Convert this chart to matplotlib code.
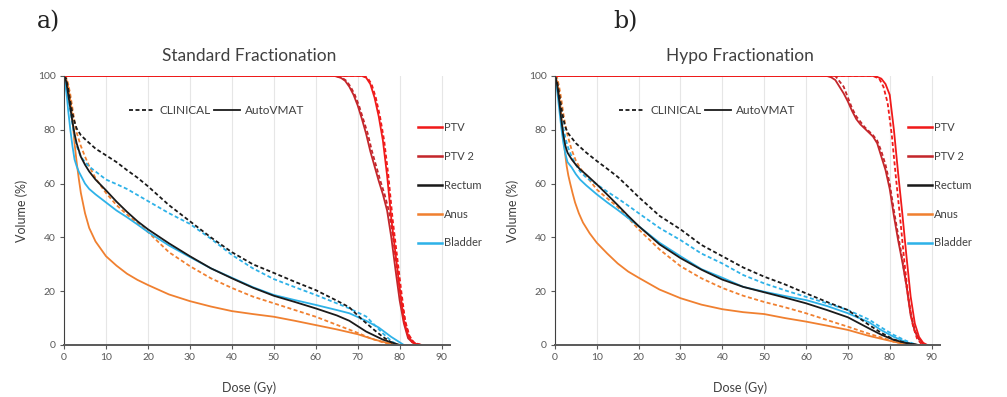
import matplotlib
matplotlib.use("Agg")
import matplotlib.pyplot as plt
from matplotlib.lines import Line2D

plt.rcParams['font.family'] = ['Lato', 'DejaVu Sans']

## DATA - Standard fractionation
std_ptv_d = [0, 71, 72, 73, 74, 75, 76, 77, 78, 79, 80, 81, 82, 83, 84, 85]
std_ptv_v = [100, 100, 99.4, 97, 92, 85, 76, 63, 47, 34, 21, 9, 3.5, 1, 0.3, 0]
std_ptv_clin_d = [0, 71.3, 72.3, 73.3, 74.3, 75.3, 76.3, 77.3, 78.3, 79.3, 80.3, 81.3, 82.3, 83.3, 84.3, 85.3]
std_ptv_clin_v = [100, 100, 99.4, 97, 92, 85, 76, 63, 47, 34, 21, 9, 3.5, 1, 0.3, 0]
std_ptv2_d = [0, 64.5, 66, 67, 68, 69, 70, 71, 72, 73, 74, 75, 76, 77, 78, 79, 80, 81, 82, 83, 84, 85]
std_ptv2_v = [100, 100, 99.3, 98.2, 96, 93, 89, 84, 78.5, 72, 66.5, 61, 56, 50, 40, 28, 16.5, 8, 2.5, 1, 0.3, 0]
std_ptv2_clin_d = [0, 64.8, 66.3, 67.3, 68.3, 69.3, 70.3, 71.3, 72.4, 73.4, 74.4, 75.4, 76.4, 77.4, 78.4, 79.4, 80.4, 81.4, 82.4, 83.4, 84.4, 85.4]
std_ptv2_clin_v = [100, 100, 99.3, 98.2, 96, 93, 89, 84, 78.5, 72, 66.5, 61, 56, 50, 40, 28, 16.5, 8, 2.5, 1, 0.3, 0]

std_rect_clin_d = [0, 0.5, 1, 1.5, 2, 2.5, 3, 4, 5, 7.5, 10, 12.5, 15, 17.5, 20, 25, 30, 35, 40, 45, 50, 55, 60, 65, 68, 71, 74, 76, 78, 79.5]
std_rect_clin_v = [100, 99, 95, 90.5, 86, 83, 80.5, 78, 76.5, 73, 70.5, 68, 65, 62.2, 59, 52, 46, 40, 34.5, 30, 26.8, 23.5, 20.4, 16.5, 14, 9.5, 5.5, 3, 1, 0]
std_rect_d = [0, 0.5, 1, 1.5, 2, 2.5, 3, 4, 5, 6, 7.5, 10, 12.5, 15, 17.5, 20, 25, 30, 35, 40, 45, 50, 55, 60, 65, 68, 70, 72, 74, 76, 78, 80]
std_rect_v = [100, 98, 93, 88, 83, 78.5, 75, 70, 67, 64.5, 61.5, 57.5, 53.3, 49.5, 46, 43, 37.8, 33, 28.5, 24.8, 21.3, 18.3, 16, 13.6, 11, 9, 7, 5, 3.5, 2, 1, 0]

std_anus_clin_d = [0, 0.5, 1, 1.5, 2, 2.5, 3, 4, 5, 6, 7.5, 10, 12.5, 15, 17.5, 20, 25, 30, 35, 40, 45, 50, 55, 60, 65, 70, 73, 76, 78, 80]
std_anus_clin_v = [100, 99.5, 97, 93, 88, 83, 79, 74, 70, 66.5, 62, 56.5, 52, 48.5, 45.3, 42, 34.5, 29.3, 24.8, 21.2, 18, 15.5, 13, 10.5, 7.5, 4.5, 2.5, 1, 0.3, 0]
std_anus_d = [0, 0.5, 1, 1.5, 2, 2.5, 3, 3.5, 4, 5, 6, 7.5, 10, 12.5, 15, 17.5, 20, 25, 30, 35, 40, 45, 50, 55, 60, 65, 70, 74, 77, 80]
std_anus_v = [100, 99, 96, 91, 84, 75, 68, 62, 56.6, 49, 43.5, 38.5, 33, 29.5, 26.5, 24.2, 22.3, 18.8, 16.3, 14.3, 12.6, 11.5, 10.5, 9, 7.4, 5.8, 4, 2, 0.8, 0]

std_blad_clin_d = [0, 0.5, 1, 1.5, 2, 2.5, 3, 4, 5, 6, 7.5, 10, 12.5, 15, 20, 25, 30, 35, 40, 45, 50, 55, 60, 65, 68, 72, 76, 78, 79.5]
std_blad_clin_v = [100, 98, 93, 87, 82, 77.5, 74, 70, 68, 66.3, 64.5, 61.5, 59.8, 58, 53.5, 49, 45, 39.5, 33.5, 28.5, 24.5, 21.5, 18.6, 15.5, 13.6, 10.6, 4.3, 1.5, 0]
std_blad_d = [0, 0.3, 0.7, 1, 1.5, 2, 2.5, 3, 3.5, 4, 5, 6, 7.5, 10, 12.5, 15, 17.5, 20, 25, 30, 35, 40, 45, 50, 55, 60, 65, 68, 72, 75, 78, 80, 81]
std_blad_v = [100, 97, 92, 87, 80, 74, 69, 66.5, 64.5, 63, 60, 58, 56, 53, 50, 47.5, 44.8, 42, 37, 32.7, 28.5, 25, 21.5, 18.6, 16.7, 14.9, 13, 11.8, 9, 6.5, 3, 1, 0]

## DATA - Hypo fractionation
hyp_ptv_d = [0, 76.5, 78, 79, 80, 81, 82, 83, 84, 85, 86, 87, 88, 89]
hyp_ptv_v = [100, 100, 99, 97, 93, 80, 64, 49, 33, 18, 8, 3, 0.8, 0]
hyp_ptv_clin_d = [0, 76, 77.5, 78.5, 79.5, 80.5, 81.5, 82.5, 83.5, 84.5, 85.5, 86.5, 87.5, 88]
hyp_ptv_clin_v = [100, 100, 99, 96, 90, 78, 62, 47, 31, 17, 7.5, 2.5, 0.5, 0]
hyp_ptv2_d = [0, 65, 66, 67, 68, 69, 70, 71, 72, 73, 74, 75, 76, 77, 78, 79, 80, 81, 82, 83, 84, 85, 86, 87, 88, 88.5]
hyp_ptv2_v = [100, 100, 99.5, 98.5, 96, 93.5, 90.5, 87, 84, 82, 80.5, 79, 77.5, 75, 70, 65, 58, 48, 39, 31, 22, 11, 5, 2.3, 0.5, 0]
hyp_ptv2_clin_d = [0, 67, 68, 69, 70, 71, 72, 73, 74, 75, 76, 77, 78, 79, 80, 81, 82, 83, 84, 85, 86, 87, 88, 88.5]
hyp_ptv2_clin_v = [100, 100, 98, 96, 92, 88, 85, 83, 81, 79.5, 78, 76, 72, 67, 60, 50, 41, 32, 22, 12, 5.5, 2, 0.4, 0]

hyp_rect_clin_d = [0, 0.5, 1, 1.5, 2, 2.5, 3, 4, 5, 7.5, 10, 12.5, 15, 17.5, 20, 25, 30, 35, 40, 45, 50, 55, 60, 65, 70, 75, 78, 81, 84, 87]
hyp_rect_clin_v = [100, 98, 93.5, 88.5, 84, 81, 79, 77, 75, 71.5, 68.4, 65.5, 62.5, 58.8, 55, 48, 43, 37.2, 33, 28.8, 25.4, 22.5, 19.2, 16, 13, 7.5, 4.5, 2, 0.7, 0]
hyp_rect_d = [0, 0.5, 1, 1.5, 2, 2.5, 3, 4, 5, 6, 7.5, 10, 12.5, 15, 17.5, 20, 25, 30, 35, 40, 45, 50, 55, 60, 65, 70, 75, 78, 81, 84, 87]
hyp_rect_v = [100, 97, 91, 84, 78, 74, 71.5, 69, 67, 65.3, 63.3, 59.7, 55.9, 52, 48, 44.2, 37.4, 32.3, 28, 24.3, 21.6, 19.6, 17.6, 15.5, 13, 10.3, 6.2, 3.8, 1.9, 0.7, 0]

hyp_anus_clin_d = [0, 0.5, 1, 1.5, 2, 2.5, 3, 4, 5, 6, 7.5, 10, 12.5, 15, 17.5, 20, 25, 30, 35, 40, 45, 50, 55, 60, 65, 70, 75, 78, 81, 85]
hyp_anus_clin_v = [100, 99.5, 96, 91.5, 86, 81.5, 78, 72.5, 68.5, 65.8, 62.8, 57.8, 54.5, 51.3, 47.2, 43, 35.5, 29.3, 24.8, 21.2, 18.3, 16, 14, 11.8, 9.3, 6.8, 4.2, 2.8, 1.2, 0]
hyp_anus_d = [0, 0.5, 1, 1.5, 2, 2.4, 2.8, 3.2, 3.6, 4.2, 4.8, 5.7, 6.7, 8.3, 10, 12.5, 15, 17.5, 20, 25, 30, 35, 40, 45, 50, 55, 60, 65, 70, 75, 78, 81, 85]
hyp_anus_v = [100, 98, 93, 86, 77.7, 71.5, 66.5, 63, 60.3, 56.5, 53, 49, 45.5, 41.5, 38, 34, 30.3, 27.3, 25, 20.6, 17.4, 15, 13.3, 12.2, 11.5, 10, 8.7, 7.2, 5.6, 3.4, 2.3, 1.2, 0]

hyp_blad_clin_d = [0, 0.5, 1, 1.5, 2, 2.5, 3, 4, 5, 6, 7.5, 10, 12.5, 15, 17.5, 20, 25, 30, 35, 40, 45, 50, 55, 60, 65, 70, 75, 78, 81, 84, 86.5]
hyp_blad_clin_v = [100, 96, 90.5, 85, 80.5, 77, 74, 70, 67, 64.5, 62.2, 59.7, 57, 54.5, 51.8, 49, 43.5, 39, 34, 30.3, 26, 22.9, 20.3, 17.9, 15.5, 13, 9.5, 6.5, 3.7, 1.5, 0]
hyp_blad_d = [0, 0.5, 1, 1.5, 2, 2.5, 3, 4, 5, 6, 7.5, 10, 12.5, 15, 17.5, 20, 25, 30, 35, 40, 45, 50, 55, 60, 65, 70, 75, 78, 81, 84, 86]
hyp_blad_v = [100, 95, 88, 81, 75.2, 71, 68, 66, 63.5, 61.5, 59.3, 56, 53, 50.2, 47.2, 44.2, 38, 33, 28.2, 25, 21.6, 19.8, 18.2, 16.7, 14.5, 11.8, 8.5, 5.5, 3, 1, 0]

titles = ["Standard Fractionation", "Hypo Fractionation"]
panel_tags = ["a)", "b)"]
organs = ["PTV", "PTV 2", "Rectum", "Anus", "Bladder"]
xticks = [0, 10, 20, 30, 40, 50, 60, 70, 80, 90]
yticks = [0, 20, 40, 60, 80, 100]

colors = {"PTV": "#F01A1A", "PTV 2": "#C4262B", "Rectum": "#1A1A1A",
          "Anus": "#F08030", "Bladder": "#2EB2E8"}

std = {
    "PTV": (std_ptv_clin_d, std_ptv_clin_v, std_ptv_d, std_ptv_v),
    "PTV 2": (std_ptv2_clin_d, std_ptv2_clin_v, std_ptv2_d, std_ptv2_v),
    "Rectum": (std_rect_clin_d, std_rect_clin_v, std_rect_d, std_rect_v),
    "Anus": (std_anus_clin_d, std_anus_clin_v, std_anus_d, std_anus_v),
    "Bladder": (std_blad_clin_d, std_blad_clin_v, std_blad_d, std_blad_v),
}
hyp = {
    "PTV": (hyp_ptv_clin_d, hyp_ptv_clin_v, hyp_ptv_d, hyp_ptv_v),
    "PTV 2": (hyp_ptv2_clin_d, hyp_ptv2_clin_v, hyp_ptv2_d, hyp_ptv2_v),
    "Rectum": (hyp_rect_clin_d, hyp_rect_clin_v, hyp_rect_d, hyp_rect_v),
    "Anus": (hyp_anus_clin_d, hyp_anus_clin_v, hyp_anus_d, hyp_anus_v),
    "Bladder": (hyp_blad_clin_d, hyp_blad_clin_v, hyp_blad_d, hyp_blad_v),
}

fig = plt.figure(figsize=(10.07, 3.97), dpi=100)
ax_pos = [[0.0636, 0.131, 0.3833, 0.6776], [0.5511, 0.131, 0.3823, 0.6776]]
tag_x = [0.037, 0.609]

lw = 1.3
for i, data in enumerate([std, hyp]):
    ax = fig.add_axes(ax_pos[i])
    for org in ["Anus", "Bladder", "Rectum", "PTV 2", "PTV"]:
        cd, cv, ad, av = data[org]
        ax.plot(cd, cv, color=colors[org], lw=lw, ls=(0, (2.2, 1.4)))
        ax.plot(ad, av, color=colors[org], lw=lw)
    ax.set_xlim(0, 92)
    ax.set_ylim(0, 100)
    ax.set_xticks(xticks)
    ax.set_yticks(yticks)
    ax.grid(axis='x', color='#E6E6E6', lw=0.8)
    ax.set_axisbelow(True)
    for s in ['top', 'right']:
        ax.spines[s].set_visible(False)
    ax.spines['left'].set_color('#404040')
    ax.spines['bottom'].set_color('#595959')
    ax.spines['bottom'].set_linewidth(1.4)
    ax.tick_params(labelsize=7.5, colors='#595959', length=3, width=0.8, pad=3)
    ax.set_title(titles[i], fontsize=12.5, color='#404040', pad=11, x=0.48)
    ax.set_xlabel("Dose (Gy)", fontsize=9, color='#404040')
    ax.xaxis.set_label_coords(0.48, -0.135)
    ax.set_ylabel("Volume (%)", fontsize=9, color='#404040', labelpad=7)

    # dashed / solid key
    h1 = [Line2D([], [], color='#1A1A1A', lw=lw, ls=(0, (2.2, 1.4))),
          Line2D([], [], color='#1A1A1A', lw=lw)]
    leg1 = ax.legend(h1, ["CLINICAL", "AutoVMAT"], ncol=2, frameon=False,
                     fontsize=8.5, handlelength=2.2, handletextpad=0.4,
                     columnspacing=0.3, loc='center left',
                     bbox_to_anchor=(0.14, 0.87), labelcolor='#404040')
    ax.add_artist(leg1)

    h2 = [Line2D([], [], color=colors[o], lw=lw * 1.4) for o in organs]
    ax.legend(h2, organs, frameon=False, fontsize=8, handlelength=2.2,
              handletextpad=0.15, labelspacing=1.6, loc='upper left',
              bbox_to_anchor=(0.89, 0.865), labelcolor='#404040')

    fig.text(tag_x[i], 0.945, panel_tags[i], fontsize=17, family='DejaVu Serif',
             color='#222222', va='center')

fig.savefig("out.png", dpi=100)
